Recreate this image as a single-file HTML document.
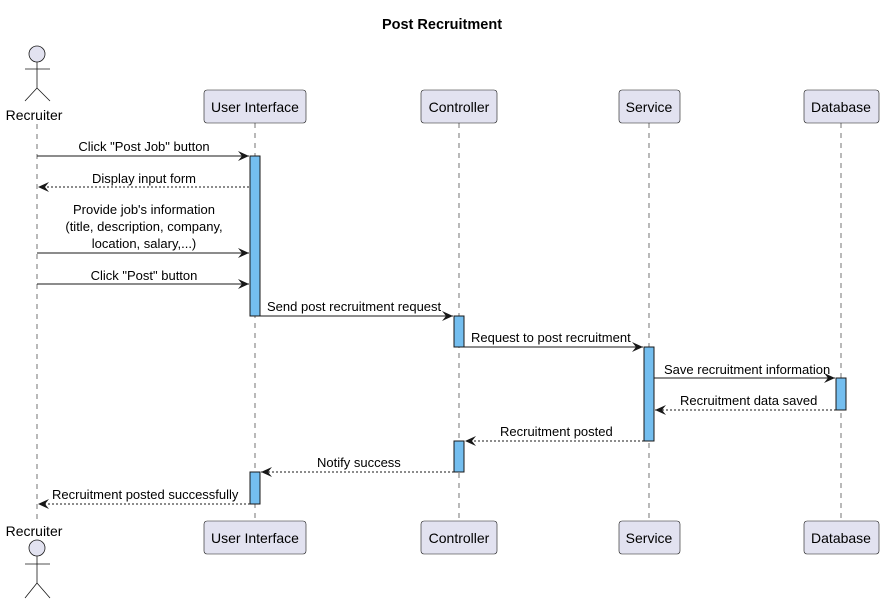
<!DOCTYPE html>
<html><head><meta charset="utf-8"><style>html,body{margin:0;padding:0;background:#fff}svg{display:block}</style></head>
<body>
<svg width="884" height="604" viewBox="0 0 884 604" xmlns="http://www.w3.org/2000/svg" font-family="Liberation Sans, sans-serif">
<defs>
<marker id="a" markerWidth="12" markerHeight="10" refX="11" refY="5" orient="auto" markerUnits="userSpaceOnUse">
<path d="M0,0 L11,5 L0,10 L4,5 Z" fill="#181818"/>
</marker>
</defs>
<text x="442" y="29" font-size="14.5" font-weight="bold" text-anchor="middle" fill="#000">Post Recruitment</text>
<g stroke="#181818" stroke-width="0.6" stroke-dasharray="5,5">
<line x1="37" y1="124" x2="37" y2="521"/>
<line x1="255" y1="123" x2="255" y2="521"/>
<line x1="459" y1="123" x2="459" y2="521"/>
<line x1="649" y1="123" x2="649" y2="521"/>
<line x1="841" y1="123" x2="841" y2="521"/>
</g>
<g fill="#E2E2F0" stroke="#181818" stroke-width="0.6">
<rect x="204" y="90" width="102" height="33" rx="3"/>
<rect x="421" y="90" width="76" height="33" rx="3"/>
<rect x="619" y="90" width="61" height="33" rx="3"/>
<rect x="804" y="90" width="75" height="33" rx="3"/>
<rect x="204" y="521" width="102" height="33" rx="3"/>
<rect x="421" y="521" width="76" height="33" rx="3"/>
<rect x="619" y="521" width="61" height="33" rx="3"/>
<rect x="804" y="521" width="75" height="33" rx="3"/>
</g>
<g font-size="14" text-anchor="middle" fill="#000">
<text x="255" y="112">User Interface</text><text x="459" y="112">Controller</text><text x="649" y="112">Service</text><text x="841" y="112">Database</text>
<text x="255" y="543">User Interface</text><text x="459" y="543">Controller</text><text x="649" y="543">Service</text><text x="841" y="543">Database</text>
<text x="34" y="120">Recruiter</text><text x="34" y="536">Recruiter</text>
</g>
<g fill="#E2E2F0" stroke="#181818" stroke-width="0.8">
<circle cx="37" cy="54" r="8"/>
<path d="M37,62 V88 M25,69 H50 M37,88 L25,101 M37,88 L50,101" fill="none"/>
<circle cx="37" cy="548" r="8"/>
<path d="M37,556 V583 M25,564 H50 M37,583 L25,598 M37,583 L50,598" fill="none"/>
</g>
<g fill="#74BEEF" stroke="#181818" stroke-width="1">
<rect x="250" y="156" width="10" height="160"/>
<rect x="250" y="472" width="10" height="32"/>
<rect x="454" y="316" width="10" height="31"/>
<rect x="454" y="441" width="10" height="31"/>
<rect x="644" y="347" width="10" height="94"/>
<rect x="836" y="378" width="10" height="32"/>
</g>
<g stroke="#181818" stroke-width="1" fill="none" marker-end="url(#a)">
<line x1="37" y1="156" x2="249" y2="156"/>
<line x1="249" y1="187" x2="38" y2="187" stroke-dasharray="2,2"/>
<line x1="37" y1="253" x2="249" y2="253"/>
<line x1="37" y1="284" x2="249" y2="284"/>
<line x1="260" y1="316" x2="453" y2="316"/>
<line x1="464" y1="347" x2="643" y2="347"/>
<line x1="654" y1="378" x2="835" y2="378"/>
<line x1="836" y1="410" x2="655" y2="410" stroke-dasharray="2,2"/>
<line x1="644" y1="441" x2="465" y2="441" stroke-dasharray="2,2"/>
<line x1="454" y1="472" x2="261" y2="472" stroke-dasharray="2,2"/>
<line x1="250" y1="504" x2="38" y2="504" stroke-dasharray="2,2"/>
</g>
<g font-size="13" fill="#000">
<text x="144" y="151" text-anchor="middle">Click "Post Job" button</text>
<text x="144" y="183" text-anchor="middle">Display input form</text>
<text x="144" y="214" text-anchor="middle">Provide job's information</text>
<text x="144" y="231" text-anchor="middle">(title, description, company,</text>
<text x="144" y="248" text-anchor="middle">location, salary,...)</text>
<text x="144" y="280" text-anchor="middle">Click "Post" button</text>
<text x="267" y="311">Send post recruitment request</text>
<text x="471" y="342">Request to post recruitment</text>
<text x="664" y="374">Save recruitment information</text>
<text x="680" y="405">Recruitment data saved</text>
<text x="500" y="436">Recruitment posted</text>
<text x="317" y="467">Notify success</text>
<text x="52" y="499">Recruitment posted successfully</text>
</g>
</svg>
</body></html>
